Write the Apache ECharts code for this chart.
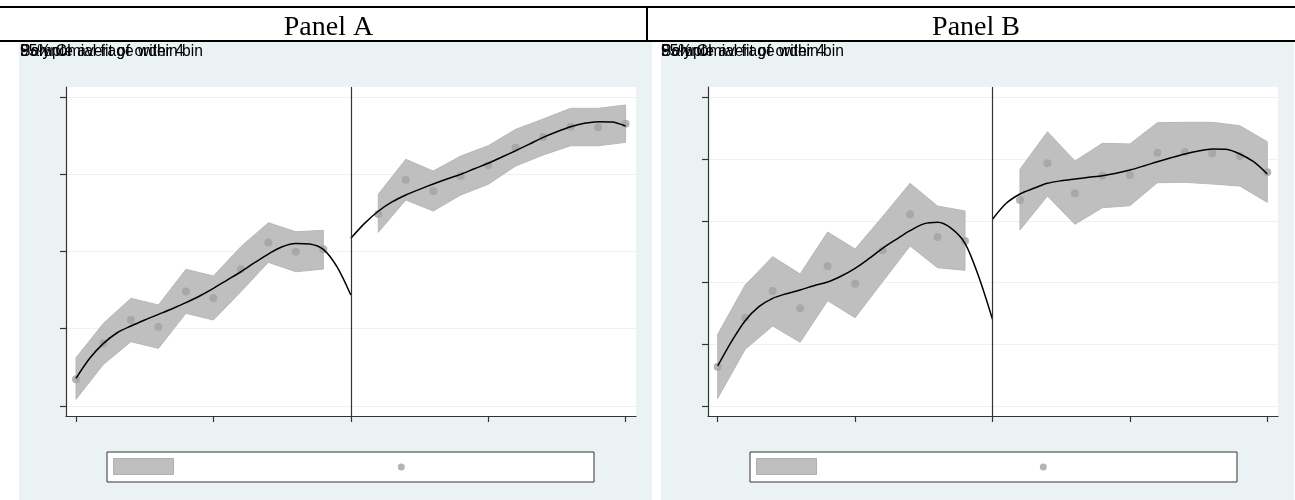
<!DOCTYPE html>
<html>
<head>
<meta charset="utf-8">
<script src="https://cdn.jsdelivr.net/npm/echarts@6/dist/echarts.min.js"></script>
<style>
html,body{margin:0;padding:0;background:#fff;}
#chart{width:1295px;height:500px;}
</style>
</head>
<body>
<div id="chart"></div>
<script>
// ---- data (values in axis units; x ticks at 0..4, cutoff at 2) ----
const panelTitles = ['Panel A', 'Panel B'];
const headerTexts = ['95% CI', 'Sample average within bin', 'Polynomial fit of order 4'];
const xTicks = [0, 1, 2, 3, 4];
const yTicksA = [0, 1, 2, 3, 4];
const yTicksB = [0, 1, 2, 3, 4, 5];
const cutoff = 2;

const binX = [0, 0.2, 0.4, 0.6, 0.8, 1.0, 1.2, 1.4, 1.6, 1.8,
              2.2, 2.4, 2.6, 2.8, 3.0, 3.2, 3.4, 3.6, 3.8, 4.0];

const meanA = [0.345, 0.811, 1.113, 1.026, 1.483, 1.397, 1.768, 2.117, 1.996, 2.027,
               2.484, 2.928, 2.781, 2.975, 3.114, 3.342, 3.480, 3.613, 3.605, 3.652];
const lowA  = [0.087, 0.539, 0.832, 0.746, 1.199, 1.113, 1.479, 1.859, 1.737, 1.772,
               2.247, 2.665, 2.523, 2.730, 2.868, 3.105, 3.247, 3.367, 3.367, 3.411];
const highA = [0.625, 1.070, 1.393, 1.307, 1.768, 1.682, 2.061, 2.371, 2.255, 2.273,
               2.739, 3.191, 3.040, 3.234, 3.367, 3.579, 3.713, 3.851, 3.851, 3.894];

const meanB = [0.637, 1.430, 1.863, 1.582, 2.262, 1.981, 2.521, 3.105, 2.737, 2.672,
               3.337, 3.931, 3.445, 3.730, 3.741, 4.103, 4.114, 4.093, 4.049, 3.785];
const lowB  = [0.124, 0.918, 1.296, 1.031, 1.706, 1.430, 2.013, 2.592, 2.240, 2.197,
               2.851, 3.401, 2.943, 3.212, 3.244, 3.617, 3.623, 3.596, 3.563, 3.299];
const highB = [1.161, 1.960, 2.419, 2.138, 2.818, 2.543, 3.067, 3.607, 3.239, 3.158,
               3.834, 4.443, 3.968, 4.255, 4.244, 4.589, 4.595, 4.595, 4.540, 4.281];

// polynomial fit, every 0.1 units
const fitLeftX  = [0, 0.1, 0.2, 0.3, 0.4, 0.5, 0.6, 0.7, 0.8, 0.9, 1.0,
                   1.1, 1.2, 1.3, 1.4, 1.5, 1.6, 1.7, 1.8, 1.9, 2.0];
const fitRightX = [2.0, 2.1, 2.2, 2.3, 2.4, 2.5, 2.6, 2.7, 2.8, 2.9, 3.0,
                   3.1, 3.2, 3.3, 3.4, 3.5, 3.6, 3.7, 3.8, 3.9, 4.0];
const fitLeftYA  = [0.358, 0.617, 0.810, 0.948, 1.035, 1.113, 1.186, 1.259, 1.337, 1.423, 1.522,
                    1.630, 1.737, 1.854, 1.966, 2.061, 2.104, 2.096, 2.027, 1.800, 1.436];
const fitRightYA = [2.169, 2.363, 2.520, 2.640, 2.730, 2.803, 2.872, 2.937, 2.997, 3.070, 3.140,
                    3.221, 3.303, 3.389, 3.476, 3.549, 3.613, 3.657, 3.678, 3.675, 3.622];
const fitLeftYB  = [0.648, 1.042, 1.382, 1.609, 1.744, 1.819, 1.879, 1.949, 2.008, 2.106, 2.230,
                    2.386, 2.554, 2.700, 2.840, 2.950, 2.975, 2.878, 2.635, 2.094, 1.404];
const fitRightYB = [3.024, 3.283, 3.434, 3.526, 3.607, 3.649, 3.677, 3.704, 3.730, 3.769, 3.822,
                    3.887, 3.957, 4.022, 4.082, 4.130, 4.163, 4.157, 4.082, 3.957, 3.758];

// ---- styling ----
const PANEL_BG = '#EAF2F3';
const BAND = '#BFBFBF';
const DOT = '#A3A3A3';
const AXIS = '#333333';

function zip(xs, ys) { return xs.map((x, i) => [x, ys[i]]); }

function bandSeries(xi, xs, lo, hi, from, to) {
  const rows = [];
  for (let i = from; i < to; i++) rows.push([xs[i], lo[i], hi[i]]);
  return {
    type: 'custom', name: '95% CI', xAxisIndex: xi, yAxisIndex: xi, z: 1, silent: true,
    data: rows,
    encode: { x: 0, y: [1, 2] },
    renderItem: function (params, api) {
      if (params.dataIndex !== 0) return null;
      const pts = [];
      rows.forEach(r => pts.push(api.coord([r[0], r[2]])));
      for (let i = rows.length - 1; i >= 0; i--) pts.push(api.coord([rows[i][0], rows[i][1]]));
      return { type: 'polygon', shape: { points: pts },
               style: { fill: BAND, stroke: '#B8B8B8', lineWidth: 1 } };
    }
  };
}

function fitSeries(xi, xs, ys, withCutoff) {
  const s = {
    type: 'line', name: 'Polynomial fit of order 4', xAxisIndex: xi, yAxisIndex: xi, z: 4,
    data: zip(xs, ys), smooth: 0.3, showSymbol: false, symbol: 'none', silent: true,
    lineStyle: { color: '#000', width: 1.5 }
  };
  if (withCutoff) {
    s.markLine = { silent: true, symbol: 'none', label: { show: false },
      lineStyle: { color: AXIS, width: 1.2, type: 'solid' }, data: [{ xAxis: cutoff }] };
  }
  return s;
}

function scatterSeries(xi, xs, ys) {
  return { type: 'scatter', name: 'Sample average within bin', xAxisIndex: xi, yAxisIndex: xi, z: 3,
    data: zip(xs, ys), symbol: 'circle', symbolSize: 8, silent: true,
    itemStyle: { color: DOT } };
}

function xAxisDef(gi, min, max) {
  return { type: 'value', gridIndex: gi, min: min, max: max,
    axisLine: { show: true, onZero: false, lineStyle: { color: AXIS, width: 1.2 } },
    axisTick: { show: true, customValues: xTicks, length: 6, lineStyle: { color: AXIS, width: 1.2 } },
    axisLabel: { show: false }, splitLine: { show: false } };
}
function yAxisDef(gi, min, max, ticks) {
  return { type: 'value', gridIndex: gi, min: min, max: max,
    axisLine: { show: true, onZero: false, lineStyle: { color: AXIS, width: 1.2 } },
    axisTick: { show: true, customValues: ticks, length: 6, lineStyle: { color: AXIS, width: 1.2 } },
    axisLabel: { show: false },
    splitLine: { show: true, lineStyle: { color: PANEL_BG, width: 1.2 } } };
}

function legendPair(boxLeft, dotCenterX) {
  return [
    { left: boxLeft, top: 452, orient: 'horizontal', selectedMode: false,
      data: [{ name: '95% CI', icon: 'rect', itemStyle: { color: BAND, borderColor: '#B0B0B0', borderWidth: 1 } }],
      itemWidth: 60, itemHeight: 16, formatter: () => '',
      padding: [6, 420, 7, 6], backgroundColor: '#fff', borderColor: AXIS, borderWidth: 1 },
    { left: dotCenterX - 3.5, top: 463.5, orient: 'horizontal', selectedMode: false,
      data: [{ name: 'Sample average within bin', icon: 'circle', itemStyle: { color: DOT } }],
      itemWidth: 7, itemHeight: 7, formatter: () => '', padding: 0,
      textStyle: { fontSize: 1, lineHeight: 1 } }
  ];
}

function headerGraphics(x) {
  return headerTexts.map(t => ({
    type: 'text', x: x, y: 52, z: 5,
    style: { text: t, fill: '#000', font: '15.6px "Liberation Sans", Arial, sans-serif', verticalAlign: 'middle' }
  }));
}

const option = {
  animation: false,
  backgroundColor: '#fff',
  title: [
    { text: panelTitles[0], left: 323.5, top: 9, textAlign: 'center',
      textStyle: { fontFamily: '"Liberation Serif", serif', fontSize: 28, fontWeight: 'normal', color: '#000' } },
    { text: panelTitles[1], left: 971, top: 9, textAlign: 'center',
      textStyle: { fontFamily: '"Liberation Serif", serif', fontSize: 28, fontWeight: 'normal', color: '#000' } }
  ],
  graphic: [
    { type: 'rect', z: -10, shape: { x: 19, y: 42, width: 633, height: 458 }, style: { fill: PANEL_BG } },
    { type: 'rect', z: -10, shape: { x: 661, y: 42, width: 633, height: 458 }, style: { fill: PANEL_BG } },
    { type: 'line', z: 5, shape: { x1: 0, y1: 7, x2: 1295, y2: 7 }, style: { stroke: '#000', lineWidth: 2 } },
    { type: 'line', z: 5, shape: { x1: 0, y1: 41, x2: 1295, y2: 41 }, style: { stroke: '#000', lineWidth: 2 } },
    { type: 'line', z: 5, shape: { x1: 647, y1: 7, x2: 647, y2: 41 }, style: { stroke: '#000', lineWidth: 2 } }
  ].concat(headerGraphics(20), headerGraphics(661)),
  grid: [
    { left: 66, top: 87, width: 570, height: 329, show: true, backgroundColor: '#fff', borderWidth: 0, containLabel: false },
    { left: 708, top: 87, width: 570, height: 329, show: true, backgroundColor: '#fff', borderWidth: 0, containLabel: false }
  ],
  xAxis: [ xAxisDef(0, -0.0728, 4.0757), xAxisDef(1, -0.0706, 4.078) ],
  yAxis: [ yAxisDef(0, -0.129, 4.127, yTicksA), yAxisDef(1, -0.162, 5.167, yTicksB) ],
  legend: legendPair(107, 401.3).concat(legendPair(750, 1043.3)),
  series: [
    bandSeries(0, binX, lowA, highA, 0, 10),
    bandSeries(0, binX, lowA, highA, 10, 20),
    scatterSeries(0, binX, meanA),
    fitSeries(0, fitLeftX, fitLeftYA, true),
    fitSeries(0, fitRightX, fitRightYA, false),
    bandSeries(1, binX, lowB, highB, 0, 10),
    bandSeries(1, binX, lowB, highB, 10, 20),
    scatterSeries(1, binX, meanB),
    fitSeries(1, fitLeftX, fitLeftYB, true),
    fitSeries(1, fitRightX, fitRightYB, false)
  ]
};

const chart = echarts.init(document.getElementById('chart'), null, { renderer: 'canvas' });
chart.setOption(option);
</script>
</body>
</html>
